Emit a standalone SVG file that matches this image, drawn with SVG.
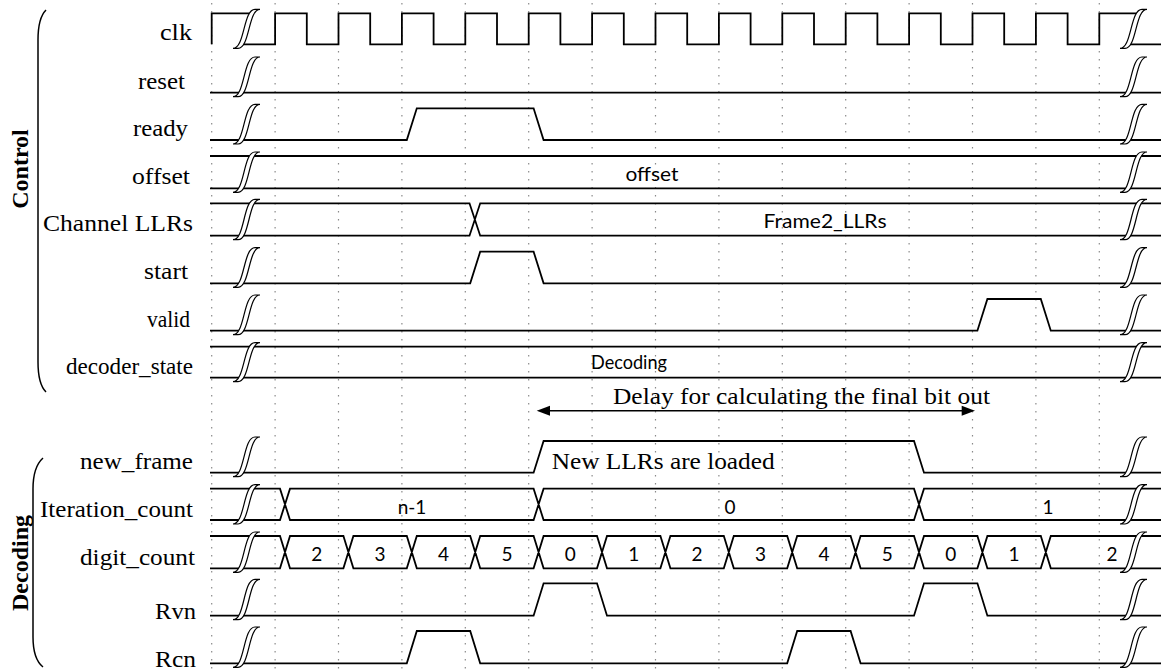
<svg xmlns="http://www.w3.org/2000/svg" width="1161" height="670" viewBox="0 0 1161 670">
<style>
.grid{stroke:#8a8a8a;stroke-width:1.2;stroke-dasharray:1.5 6.5;fill:none}
.sig{stroke:#000;stroke-width:1.8;fill:none;stroke-linejoin:miter}
.brk{stroke:#000;stroke-width:1.2;fill:#fff}
.lbl{font-family:"Liberation Serif","Times New Roman",serif;font-size:23px;fill:#000;text-anchor:end}
.sec{font-family:"Liberation Serif","Times New Roman",serif;font-size:24px;font-weight:bold;fill:#000;text-anchor:middle}
.val{font-family:Lato,"Liberation Sans",sans-serif;font-size:19px;fill:#000;text-anchor:middle}
.note{font-family:"Liberation Serif","Times New Roman",serif;font-size:23px;fill:#000}
.brace{stroke:#000;stroke-width:1.5;fill:none}
</style>
<rect width="1161" height="670" fill="#fff"/>
<g id="grid">
<path class="grid" d="M211.7,3V670M275.1,3V670M338.5,3V670M401.9,3V670M465.3,3V670M528.7,3V670M592.1,3V670M655.5,3V670M718.9,3V670M782.3,3V670M845.7,3V670M909.1,3V670M972.5,3V670M1035.9,3V670M1099.3,3V670"/>
</g>
<g id="braces">
<path class="brace" d="M46,10 Q38,18 38,40 L38,362 Q38,384 46,392"/>
<path class="brace" d="M43,458 Q33,467 33,489 L33,637 Q33,659 43,667"/>
<text class="sec" transform="translate(28,169) rotate(-90)">Control</text>
<text class="sec" transform="translate(28,563) rotate(-90)">Decoding</text>
</g>
<g id="clk">
<text class="lbl" x="192" y="40" textLength="32" lengthAdjust="spacingAndGlyphs">clk</text>
<path class="sig" d="M211.7,44.3 V13.3 H251.7 M241.3,44.3 H275.1 V13.3 H306.8 V44.3 H338.5 V13.3 H370.2 V44.3 H401.9 V13.3 H433.6 V44.3 H465.3 V13.3 H497 V44.3 H528.7 V13.3 H560.4 V44.3 H592.1 V13.3 H623.8 V44.3 H655.5 V13.3 H687.2 V44.3 H718.9 V13.3 H750.6 V44.3 H782.3 V13.3 H814 V44.3 H845.7 V13.3 H877.4 V44.3 H909.1 V13.3 H940.8 V44.3 H972.5 V13.3 H1004.2 V44.3 H1035.9 V13.3 H1067.6 V44.3 H1099.3 V13.3 H1138.7 M1128.3,44.3 H1161"/>
<path class="brk" d="M233,48.3 C245,48.3 243,9.3 255,9.3 L260,9.3 C248,9.3 250,48.3 238,48.3 Z"/>
<path class="brk" d="M1120,48.3 C1132,48.3 1130,9.3 1142,9.3 L1147,9.3 C1135,9.3 1137,48.3 1125,48.3 Z"/>
</g>
<g id="reset">
<text class="lbl" x="185" y="89" textLength="47" lengthAdjust="spacingAndGlyphs">reset</text>
<path class="sig" d="M210,92.7 H1161"/>
<path class="brk" d="M233,96.7 C245,96.7 243,57 255,57 L260,57 C248,57 250,96.7 238,96.7 Z"/>
<path class="brk" d="M1120,96.7 C1132,96.7 1130,57 1142,57 L1147,57 C1135,57 1137,96.7 1125,96.7 Z"/>
</g>
<g id="ready">
<text class="lbl" x="188" y="136" textLength="55" lengthAdjust="spacingAndGlyphs">ready</text>
<path class="sig" d="M210,140 H406.8 L416.8,108.3 H533.6 L543.6,140 H1161"/>
<path class="brk" d="M233,144 C245,144 243,104.3 255,104.3 L260,104.3 C248,104.3 250,144 238,144 Z"/>
<path class="brk" d="M1120,144 C1132,144 1130,104.3 1142,104.3 L1147,104.3 C1135,104.3 1137,144 1125,144 Z"/>
</g>
<g id="offset">
<text class="lbl" x="190" y="184" textLength="58" lengthAdjust="spacingAndGlyphs">offset</text>
<path class="sig" d="M210,156 H1161 M210,188.3 H1161"/>
<path class="brk" d="M233,192.3 C245,192.3 243,152 255,152 L260,152 C248,152 250,192.3 238,192.3 Z"/>
<path class="brk" d="M1120,192.3 C1132,192.3 1130,152 1142,152 L1147,152 C1135,152 1137,192.3 1125,192.3 Z"/>
<text class="val" x="652" y="181" textLength="53" lengthAdjust="spacingAndGlyphs">offset</text>
</g>
<g id="channel_llrs">
<text class="lbl" x="193" y="231" textLength="150" lengthAdjust="spacingAndGlyphs">Channel LLRs</text>
<path class="sig" d="M210,203.3 H469.5 L480.2,235.7 H1161 M210,235.7 H469.5 L480.2,203.3 H1161"/>
<path class="brk" d="M233,239.7 C245,239.7 243,199.3 255,199.3 L260,199.3 C248,199.3 250,239.7 238,239.7 Z"/>
<path class="brk" d="M1120,239.7 C1132,239.7 1130,199.3 1142,199.3 L1147,199.3 C1135,199.3 1137,239.7 1125,239.7 Z"/>
<text class="val" x="825" y="228" textLength="123" lengthAdjust="spacingAndGlyphs">Frame2_LLRs</text>
</g>
<g id="start">
<text class="lbl" x="188" y="279" textLength="44" lengthAdjust="spacingAndGlyphs">start</text>
<path class="sig" d="M210,283.3 H470.2 L480.2,251.7 H533.6 L543.6,283.3 H1161"/>
<path class="brk" d="M233,287.3 C245,287.3 243,247.7 255,247.7 L260,247.7 C248,247.7 250,287.3 238,287.3 Z"/>
<path class="brk" d="M1120,287.3 C1132,287.3 1130,247.7 1142,247.7 L1147,247.7 C1135,247.7 1137,287.3 1125,287.3 Z"/>
</g>
<g id="valid">
<text class="lbl" x="190" y="327" textLength="43" lengthAdjust="spacingAndGlyphs">valid</text>
<path class="sig" d="M210,330.7 H977.4 L987.4,299 H1040.8 L1050.8,330.7 H1161"/>
<path class="brk" d="M233,334.7 C245,334.7 243,295 255,295 L260,295 C248,295 250,334.7 238,334.7 Z"/>
<path class="brk" d="M1120,334.7 C1132,334.7 1130,295 1142,295 L1147,295 C1135,295 1137,334.7 1125,334.7 Z"/>
</g>
<g id="decoder_state">
<text class="lbl" x="193" y="374" textLength="127" lengthAdjust="spacingAndGlyphs">decoder_state</text>
<path class="sig" d="M210,346.7 H1161 M210,377.7 H1161"/>
<path class="brk" d="M233,381.7 C245,381.7 243,342.7 255,342.7 L260,342.7 C248,342.7 250,381.7 238,381.7 Z"/>
<path class="brk" d="M1120,381.7 C1132,381.7 1130,342.7 1142,342.7 L1147,342.7 C1135,342.7 1137,381.7 1125,381.7 Z"/>
<text class="val" x="629" y="369" textLength="76" lengthAdjust="spacingAndGlyphs">Decoding</text>
</g>
<g id="delay_note">
<text class="note" x="613" y="404" textLength="377" lengthAdjust="spacingAndGlyphs">Delay for calculating the final bit out</text>
</g>
<g id="new_frame">
<text class="lbl" x="193" y="469" textLength="113" lengthAdjust="spacingAndGlyphs">new_frame</text>
<path class="sig" d="M210,472.7 H533.6 L543.6,441 H914 L924,472.7 H1161"/>
<path class="brk" d="M233,476.7 C245,476.7 243,437 255,437 L260,437 C248,437 250,476.7 238,476.7 Z"/>
<path class="brk" d="M1120,476.7 C1132,476.7 1130,437 1142,437 L1147,437 C1135,437 1137,476.7 1125,476.7 Z"/>
<text class="note" x="551.7" y="469" textLength="223" lengthAdjust="spacingAndGlyphs">New LLRs are loaded</text>
</g>
<g id="iteration_count">
<text class="lbl" x="193" y="517" textLength="153" lengthAdjust="spacingAndGlyphs">Iteration_count</text>
<path class="sig" d="M210,488.7 H280 L290,520 H533.6 L543.6,488.7 H914 L924,520 H1161 M210,520 H280 L290,488.7 H533.6 L543.6,520 H914 L924,488.7 H1161"/>
<path class="brk" d="M233,524 C245,524 243,484.7 255,484.7 L260,484.7 C248,484.7 250,524 238,524 Z"/>
<path class="brk" d="M1120,524 C1132,524 1130,484.7 1142,484.7 L1147,484.7 C1135,484.7 1137,524 1125,524 Z"/>
<text class="val" x="412" y="514">n-1</text>
<text class="val" x="730" y="514">0</text>
<text class="val" x="1048" y="514">1</text>
</g>
<g id="digit_count">
<text class="lbl" x="195" y="565" textLength="115" lengthAdjust="spacingAndGlyphs">digit_count</text>
<path class="sig" d="M210,536 H280 L290,568.3 H343.4 L353.4,536 H406.8 L416.8,568.3 H470.2 L480.2,536 H533.6 L543.6,568.3 H597 L607,536 H660.4 L670.4,568.3 H723.8 L733.8,536 H787.2 L797.2,568.3 H850.6 L860.6,536 H914 L924,568.3 H977.4 L987.4,536 H1040.8 L1050.8,568.3 H1161 M210,568.3 H280 L290,536 H343.4 L353.4,568.3 H406.8 L416.8,536 H470.2 L480.2,568.3 H533.6 L543.6,536 H597 L607,568.3 H660.4 L670.4,536 H723.8 L733.8,568.3 H787.2 L797.2,536 H850.6 L860.6,568.3 H914 L924,536 H977.4 L987.4,568.3 H1040.8 L1050.8,536 H1161"/>
<path class="brk" d="M233,572.3 C245,572.3 243,532 255,532 L260,532 C248,532 250,572.3 238,572.3 Z"/>
<path class="brk" d="M1120,572.3 C1132,572.3 1130,532 1142,532 L1147,532 C1135,532 1137,572.3 1125,572.3 Z"/>
<text class="val" x="316.7" y="561">2</text>
<text class="val" x="380.1" y="561">3</text>
<text class="val" x="443.5" y="561">4</text>
<text class="val" x="506.9" y="561">5</text>
<text class="val" x="570.3" y="561">0</text>
<text class="val" x="633.7" y="561">1</text>
<text class="val" x="697.1" y="561">2</text>
<text class="val" x="760.5" y="561">3</text>
<text class="val" x="823.9" y="561">4</text>
<text class="val" x="887.3" y="561">5</text>
<text class="val" x="950.7" y="561">0</text>
<text class="val" x="1014.1" y="561">1</text>
<text class="val" x="1112" y="561">2</text>
</g>
<g id="rvn">
<text class="lbl" x="196" y="619" textLength="41" lengthAdjust="spacingAndGlyphs">Rvn</text>
<path class="sig" d="M210,615.7 H533.6 L543.6,583.3 H597 L607,615.7 H914 L924,583.3 H977.4 L987.4,615.7 H1161"/>
<path class="brk" d="M233,619.7 C245,619.7 243,579.3 255,579.3 L260,579.3 C248,579.3 250,619.7 238,619.7 Z"/>
<path class="brk" d="M1120,619.7 C1132,619.7 1130,579.3 1142,579.3 L1147,579.3 C1135,579.3 1137,619.7 1125,619.7 Z"/>
</g>
<g id="rcn">
<text class="lbl" x="196" y="666.5" textLength="41" lengthAdjust="spacingAndGlyphs">Rcn</text>
<path class="sig" d="M210,663.3 H406.8 L416.8,631 H470.2 L480.2,663.3 H787.2 L797.2,631 H850.6 L860.6,663.3 H1161"/>
<path class="brk" d="M233,667.3 C245,667.3 243,627 255,627 L260,627 C248,627 250,667.3 238,667.3 Z"/>
<path class="brk" d="M1120,667.3 C1132,667.3 1130,627 1142,627 L1147,627 C1135,627 1137,667.3 1125,667.3 Z"/>
</g>
<g id="connectors">
<path d="M549,410.7 H963" stroke="#000" stroke-width="1.6" fill="none"/>
<polygon points="536.7,410.7 550,405.7 550,415.7" fill="#000"/>
<polygon points="975,410.7 961.7,405.7 961.7,415.7" fill="#000"/>
</g>
</svg>
